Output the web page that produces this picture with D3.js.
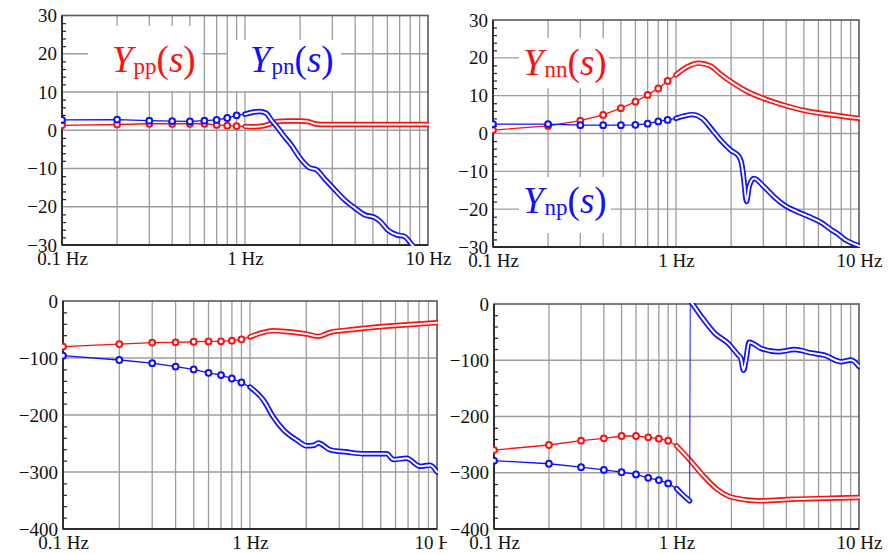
<!DOCTYPE html>
<html>
<head>
<meta charset="utf-8">
<script src="https://cdn.jsdelivr.net/npm/d3@7/dist/d3.min.js"></script>
<style>
  html, body { margin: 0; padding: 0; background: #fff; }
  svg { display: block; }
  svg text { font-family: "Liberation Serif", "Times New Roman", Times, Tinos, "Nimbus Roman", "Nimbus Roman No9 L", "FreeSerif", "Noto Serif", "DejaVu Serif", "Noto Serif CJK SC", serif; }
</style>
</head>
<body>
<svg id="chart" width="890" height="554"></svg>
<script>
// Frequency markers shared by the low-frequency part of every curve (Hz)
const lowFreqs = [0.1, 0.2, 0.3, 0.4, 0.5, 0.6, 0.7, 0.8, 0.9];

// X ticks
const xTickValues = [0.1, 1, 10];
const xTickLabels = ["0.1 Hz", "1 Hz", "10 Hz"];
const xGridValues = [0.2, 0.3, 0.4, 0.5, 0.6, 0.7, 0.8, 0.9, 1, 2, 3, 4, 5, 6, 7, 8, 9];

// Y ticks
const magTicks = [-30, -20, -10, 0, 10, 20, 30];
const magMinor = [-28, -26, -24, -22, -18, -16, -14, -12, -8, -6, -4, -2, 2, 4, 6, 8, 12, 14, 16, 18, 22, 24, 26, 28];
const phaseTicks = [-400, -300, -200, -100, 0];
const phaseMinor = [-380, -360, -340, -320, -280, -260, -240, -220, -180, -160, -140, -120, -80, -60, -40, -20];

// Magnitude of Ypp(s) and Ypn(s), dB
const ppMagLow = [1.3, 1.5, 1.7, 1.7, 1.7, 1.7, 1.4, 1.2, 1.1];
const ppMagHigh = [[1.0, 1.0], [1.1, 0.9], [1.25, 1.1], [1.4, 1.8], [1.5, 2.3], [1.7, 2.4], [2.0, 2.4], [2.2, 2.3], [2.4, 1.7], [2.6, 1.5], [4.0, 1.5], [6.0, 1.5], [10, 1.5]];
const pnMagLow = [2.7, 2.8, 2.5, 2.4, 2.3, 2.5, 2.7, 3.2, 3.9];
const pnMagHigh = [[1.0, 4.2], [1.1, 4.7], [1.2, 4.9], [1.3, 4.5], [1.4, 2.5], [1.5, 0.8], [1.6, -1.0], [1.8, -4.0], [2.0, -7.3], [2.25, -9.8], [2.45, -10.3], [2.7, -12.5], [3.1, -15.6], [3.5, -18.2], [4.0, -20.4], [4.5, -22.1], [5.1, -22.8], [5.5, -23.9], [6.0, -26.0], [6.8, -27.4], [7.4, -27.7], [8.2, -30.0], [8.8, -31.5]];

// Magnitude of Ynn(s) and Ynp(s), dB
const nnMagLow = [0.9, 2.0, 3.4, 4.9, 6.7, 8.4, 10.2, 11.9, 13.9];
const nnMagHigh = [[1.0, 15.5], [1.15, 17.6], [1.33, 18.6], [1.55, 17.8], [1.75, 15.7], [2.07, 13.2], [2.45, 11.1], [3.16, 8.9], [4.07, 7.2], [5.24, 5.9], [6.74, 5.1], [10, 4.0]];
const npMagLow = [2.5, 2.5, 2.2, 2.2, 2.2, 2.3, 2.6, 3.2, 3.6];
const npMagHigh = [[1.0, 4.0], [1.1, 4.6], [1.23, 5.0], [1.39, 4.0], [1.58, 0.9], [1.75, -1.7], [1.99, -4.4], [2.21, -6.1], [2.30, -8.8], [2.35, -12.3], [2.43, -18.0], [2.51, -14.0], [2.67, -11.9], [3.03, -14.1], [3.43, -16.7], [3.9, -18.9], [4.61, -20.7], [5.46, -22.2], [6.2, -23.5], [7.18, -25.7], [7.48, -26.2], [8.49, -28.2], [10, -29.7]];

// Phase of Ypp(s) and Ypn(s), degrees
const ppPhLow = [-80, -75.5, -73, -72.5, -71.5, -71, -70.8, -69.6, -67.3];
const ppPhHigh = [[1.0, -63], [1.15, -56], [1.33, -52], [1.6, -54], [2.01, -58], [2.32, -62], [2.68, -55], [3.3, -51], [4.03, -48], [6.08, -43], [10, -38]];
const pnPhLow = [-96, -103.5, -109, -115, -120, -126, -130, -136, -143];
const pnPhHigh = [[1.0, -151], [1.18, -174], [1.33, -203], [1.51, -226], [1.78, -244], [2.01, -254], [2.2, -253], [2.32, -249], [2.68, -261], [3.3, -265], [4.03, -268], [5.38, -268], [5.84, -278], [6.89, -276], [8.11, -290], [9.18, -288], [10, -300]];

// Phase of Ynn(s) and Ynp(s), degrees (Ynp wraps by 360 near 1.2 Hz)
const nnPhLow = [-259.6, -250.7, -243, -238.8, -234.7, -234.7, -237, -239.4, -243];
const nnPhHigh = [[1.0, -252], [1.18, -277], [1.39, -304], [1.65, -328], [2.03, -344], [2.85, -350], [4.33, -347], [6.58, -345.5], [10, -344]];
const npPhLow = [-278.5, -284, -290, -295, -299, -303, -309, -313, -319];
const npPhHighA = [[1.0, -328], [1.065, -337], [1.18, -350]];
const npPhHighB = [[1.19, 6], [1.37, -22.5], [1.62, -52], [1.92, -70], [2.18, -91], [2.25, -96], [2.33, -118], [2.4, -100], [2.5, -68], [2.91, -79], [3.6, -85], [4.44, -81], [5.47, -87], [6.47, -91], [7.98, -102.6], [9.04, -99.6], [10, -111]];

const RED = "#ff1010";
const BLUE = "#1010ff";

const svg = d3.select("#chart");
svg.append("rect").attr("width", 890).attr("height", 554).attr("fill", "#fff");

const panels = [
  { box: [62, 428, 15.5, 245], yDom: [-30, 30], ticks: magTicks, minor: magMinor,
    series: [
      { color: RED, low: ppMagLow, high: [ppMagHigh] },
      { color: BLUE, low: pnMagLow, high: [pnMagHigh] }
    ],
    legends: [
      { x: 112, y: 72, color: RED, sub: "pp", rect: [88, 26, 114, 65] },
      { x: 250, y: 72, color: BLUE, sub: "pn", rect: [228, 40, 113, 51] }
    ],
    clipRight: 890 },
  { box: [493, 859, 20, 247], yDom: [-30, 30], ticks: magTicks, minor: magMinor,
    series: [
      { color: RED, low: nnMagLow, high: [nnMagHigh] },
      { color: BLUE, low: npMagLow, high: [npMagHigh] }
    ],
    legends: [
      { x: 523, y: 75, color: RED, sub: "nn", rect: [519, 38, 90, 50] },
      { x: 523, y: 213, color: BLUE, sub: "np", rect: [519, 177, 92, 56] }
    ],
    clipRight: 890 },
  { box: [63, 437, 301, 529], yDom: [-400, 0], ticks: phaseTicks, minor: phaseMinor,
    series: [
      { color: RED, low: ppPhLow, high: [ppPhHigh] },
      { color: BLUE, low: pnPhLow, high: [pnPhHigh] }
    ],
    legends: [],
    clipRight: 447 },
  { box: [494, 859, 304, 529], yDom: [-400, 0], ticks: phaseTicks, minor: phaseMinor,
    series: [
      { color: RED, low: nnPhLow, high: [nnPhHigh] },
      { color: BLUE, low: npPhLow, high: [npPhHighA, npPhHighB], jump: true }
    ],
    legends: [],
    clipRight: 890 }
];

panels.forEach((p, i) => {
  const [x0, x1, y0, y1] = p.box;
  const x = d3.scaleLog().domain([0.1, 10]).range([x0, x1]);
  const y = d3.scaleLinear().domain(p.yDom).range([y1, y0]);

  const outerClip = "outer" + i;
  svg.append("clipPath").attr("id", outerClip)
    .append("rect").attr("x", 0).attr("y", 0).attr("width", p.clipRight).attr("height", 554);
  const g = svg.append("g").attr("clip-path", `url(#${outerClip})`);

  // grid
  const grid = g.append("g").attr("stroke", "#9d9d9d").attr("stroke-width", 1.3);
  grid.selectAll("line.v").data(xGridValues).join("line")
    .attr("x1", d => x(d)).attr("x2", d => x(d)).attr("y1", y0).attr("y2", y1);
  grid.selectAll("line.h").data(p.ticks.slice(1, -1)).join("line")
    .attr("x1", x0).attr("x2", x1).attr("y1", d => y(d)).attr("y2", d => y(d));

  // legend backgrounds
  g.selectAll("rect.leg").data(p.legends).join("rect")
    .attr("x", d => d.rect[0]).attr("y", d => d.rect[1])
    .attr("width", d => d.rect[2]).attr("height", d => d.rect[3])
    .attr("fill", "#fff");

  // frame
  g.append("rect").attr("x", x0).attr("y", y0).attr("width", x1 - x0).attr("height", y1 - y0)
    .attr("fill", "none").attr("stroke", "#5a5a5a").attr("stroke-width", 1.6);

  // minor ticks on left axis (inward)
  g.append("g").attr("transform", `translate(${x0},0)`)
    .call(d3.axisLeft(y).tickValues(p.minor).tickSize(-4).tickFormat(""))
    .call(a => a.select(".domain").remove())
    .call(a => a.selectAll("line").attr("stroke", "#222").attr("stroke-width", 1.2));

  // left & bottom axis lines
  g.append("line").attr("x1", x0).attr("x2", x0).attr("y1", y0).attr("y2", y1)
    .attr("stroke", "#2a2a2a").attr("stroke-width", 1.8);
  g.append("line").attr("x1", x0).attr("x2", x1).attr("y1", y1).attr("y2", y1)
    .attr("stroke", "#2a2a2a").attr("stroke-width", 1.8);

  // y tick labels
  g.append("g").attr("transform", `translate(${x0},0)`)
    .call(d3.axisLeft(y).tickValues(p.ticks).tickSize(0).tickPadding(5))
    .call(a => a.select(".domain").remove())
    .call(a => a.attr("font-family", null).attr("font-size", 19))
    .call(a => a.selectAll("text").attr("fill", "#111"));

  // x tick labels
  g.append("g").attr("transform", `translate(0,${y1})`)
    .call(d3.axisBottom(x).tickValues(xTickValues).tickSize(0).tickPadding(7)
      .tickFormat((d, k) => xTickLabels[k]))
    .call(a => a.select(".domain").remove())
    .call(a => a.attr("font-family", null).attr("font-size", 19))
    .call(a => a.selectAll("text").attr("fill", "#111"));

  // data, clipped to plot area
  const plotClip = "plot" + i;
  svg.append("clipPath").attr("id", plotClip)
    .append("rect").attr("x", x0 - 1).attr("y", y0 - 1).attr("width", x1 - x0 + 2).attr("height", y1 - y0 + 2);
  const dg = svg.append("g").attr("clip-path", `url(#${plotClip})`);

  const line = d3.line().x(d => x(d[0])).y(d => y(d[1])).curve(d3.curveMonotoneX);
  const straight = d3.line().x(d => x(d[0])).y(d => y(d[1]));

  p.series.forEach(s => {
    const lowPts = lowFreqs.map((f, k) => [f, s.low[k]]);
    const first = s.high[0][0];
    // thin line through the markers, up to the start of the dense part
    dg.append("path").datum(lowPts.concat([first]))
      .attr("d", straight).attr("fill", "none")
      .attr("stroke", s.color).attr("stroke-width", 1.3);
    // jump joining separate dense segments
    if (s.jump) {
      for (let k = 0; k < s.high.length - 1; k++) {
        const a = s.high[k], b = s.high[k + 1];
        dg.append("path").datum([a[a.length - 1], b[0]])
          .attr("d", straight).attr("fill", "none")
          .attr("stroke", s.color).attr("stroke-width", 1.2).attr("opacity", 0.8);
      }
    }
    // dense part: coloured ribbon with white core
    s.high.forEach(seg => {
      dg.append("path").datum(seg).attr("d", line).attr("fill", "none")
        .attr("stroke", s.color).attr("stroke-width", 5.4)
        .attr("stroke-linejoin", "round").attr("stroke-linecap", "round");
      dg.append("path").datum(seg).attr("d", line).attr("fill", "none")
        .attr("stroke", "#fff").attr("stroke-width", 2)
        .attr("stroke-linejoin", "round").attr("stroke-linecap", "round");
    });
    // markers
    dg.selectAll(null).data(lowPts).join("circle")
      .attr("cx", d => x(d[0])).attr("cy", d => y(d[1])).attr("r", 2.9)
      .attr("fill", "#fff").attr("stroke", s.color).attr("stroke-width", 2);
  });

  // legends
  p.legends.forEach(l => {
    const t = svg.append("text").attr("x", l.x).attr("y", l.y)
      .attr("font-size", 37).attr("fill", l.color);
    t.append("tspan").attr("font-style", "italic").text("Y");
    t.append("tspan").attr("font-size", 23).attr("dy", 2).attr("dx", 1).text(l.sub);
    t.append("tspan").attr("dy", -2).text("(");
    t.append("tspan").attr("font-style", "italic").text("s");
    t.append("tspan").text(")");
  });
});
</script>
</body>
</html>
